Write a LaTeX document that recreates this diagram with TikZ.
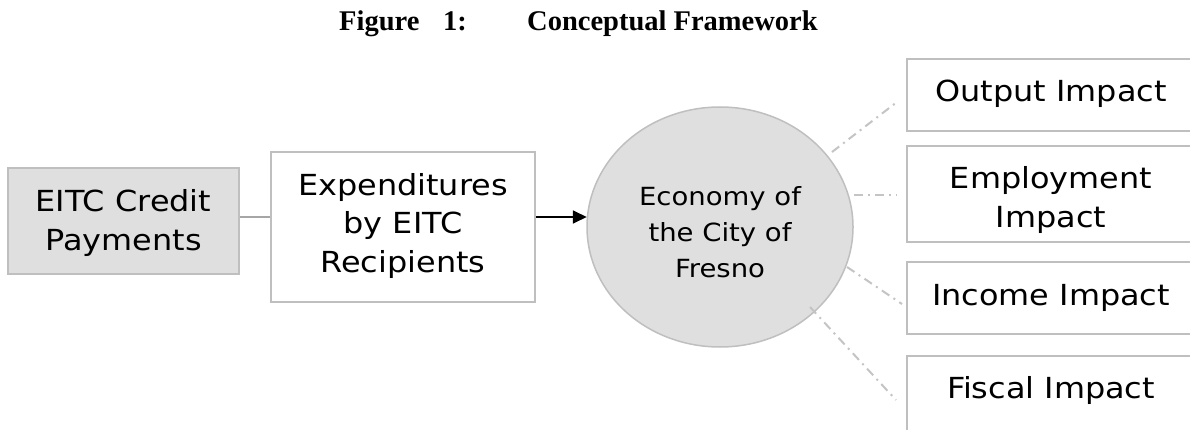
\documentclass[tikz,border=0pt]{standalone}
\usepackage{fontspec}
\setmainfont{Liberation Serif}
\newfontfamily\vfont[FakeStretch=1.1]{DejaVu Sans}
\usetikzlibrary{shapes.geometric,arrows.meta,calc}
\definecolor{bordergray}{HTML}{BFBFBF}
\definecolor{fillgray}{HTML}{DFDFDF}
\definecolor{linkgray}{HTML}{A6A6A6}
\definecolor{dashgray}{HTML}{C4C4C4}
\tikzset{
  box/.style={draw=bordergray,line width=1.5pt,inner sep=0pt,rectangle},
  bigtxt/.style={inner sep=0pt,align=center,font=\vfont\fontsize{29}{39}\selectfont},
  ecotxt/.style={inner sep=0pt,align=center,font=\vfont\fontsize{25}{36}\selectfont},
  titletxt/.style={inner sep=0pt,anchor=base west,font=\bfseries\fontsize{28.5}{34}\selectfont},
  link/.style={draw=linkgray,line width=1.5pt},
  flow/.style={draw=black,line width=1.8pt,-{Triangle[length=14pt,width=13pt]}},
  dashlink/.style={draw=dashgray,line width=2pt,dash pattern=on 9pt off 5pt on 2pt off 5pt}
}
\begin{document}
\begin{tikzpicture}[x=1pt,y=-1pt]
\useasboundingbox (0,0) rectangle (1190,430);
\clip (0,0) rectangle (1190,430);
% title
\node[titletxt] (t1) at (339,31) {Figure};
\node[titletxt] (t2) at (443,31) {1:};
\node[titletxt] (t3) at (527,31) {Conceptual Framework};
% left boxes
\node[box,fill=fillgray,minimum width=231pt,minimum height=106pt] (eitc) at (123.5,221) {};
\node[bigtxt,anchor=north] (eitctxt) at (123.5,189) {EITC Credit\\Payments};
\node[box,fill=white,minimum width=264pt,minimum height=150pt] (exp) at (403,227) {};
\node[bigtxt,anchor=north,font=\vfont\fontsize{29}{38.5}\selectfont] (exptxt) at (403,173) {Expenditures\\by EITC\\Recipients};
% economy
\node[ellipse,draw=bordergray,line width=1.5pt,fill=fillgray,inner sep=0pt,minimum width=266pt,minimum height=240pt] (eco) at (720,227) {};
\node[ecotxt,anchor=north] (ecotext) at (720,186) {Economy of\\the City of\\Fresno};
% right boxes
\node[box,minimum width=288pt,minimum height=72pt] (outbox) at (1051,95) {};
\node[bigtxt,anchor=base] (outtxt) at (1051,102) {Output Impact};
\node[box,minimum width=288pt,minimum height=96pt] (empbox) at (1051,194) {};
\node[bigtxt,anchor=north] (emptxt) at (1051,166) {Employment\\Impact};
\node[box,minimum width=288pt,minimum height=72pt] (incbox) at (1051,298) {};
\node[bigtxt,anchor=base] (inctxt) at (1051,305) {Income Impact};
\node[box,minimum width=288pt,minimum height=90pt] (fisbox) at (1051,401) {};
\node[bigtxt,anchor=base] (fistxt) at (1051,398) {Fiscal Impact};
% connectors
\draw[link] ($(eitc.east)+(0,-4)$) -- ($(exp.west)+(0,-10)$);
\draw[flow] ($(exp.east)+(0,-10)$) -- ($(eco.west)+(0.5,-10)$);
\coordinate (o1) at (832,152);
\coordinate (o2) at (897,102);
\coordinate (e1) at (854,195);
\coordinate (e2) at (897,195);
\coordinate (i1) at (847,267);
\coordinate (i2) at (902,304);
\coordinate (f1) at (810,307);
\coordinate (f2) at (896,400);
\draw[dashlink] (o1) -- (o2);
\draw[dashlink] (e1) -- (e2);
\draw[dashlink] (i1) -- (i2);
\draw[dashlink] (f1) -- (f2);
\end{tikzpicture}
\end{document}
